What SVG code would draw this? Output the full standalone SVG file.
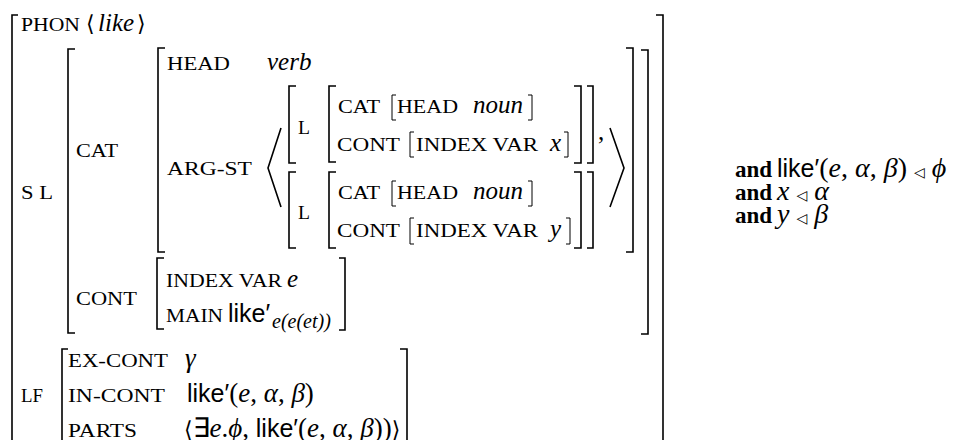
<svg xmlns="http://www.w3.org/2000/svg" width="963" height="440" viewBox="0 0 963 440">
<style>
.br{fill:none;stroke:#000;stroke-width:1.6}
.sb{fill:none;stroke:#000;stroke-width:1}
.sc{font-family:"Liberation Serif",serif;font-size:19px;fill:#000}
.it{font-family:"Liberation Serif",serif;font-style:italic;font-size:25px;fill:#000}
.rm{font-family:"Liberation Serif",serif;font-size:25px;fill:#000}
.mi{font-family:"Liberation Serif",serif;font-style:italic;font-size:27px;fill:#000}
.mr{font-family:"Liberation Serif",serif;font-size:27px;fill:#000}
.sf{font-family:"Liberation Sans",sans-serif;font-size:25px;fill:#000}
.ab{font-family:"DejaVu Serif",serif;font-size:22px;fill:#000}
.bd{font-family:"Liberation Serif",serif;font-weight:bold;font-size:23px;fill:#000}
.tri{font-family:"DejaVu Sans",sans-serif;font-size:14px;fill:#000}
.cm{font-size:28px}
</style>
<rect width="963" height="440" fill="#fff"/>
<g id="outer">
<path class="br" d="M18,15 H12 V440"/>
<path class="br" d="M656,15 H663 V440"/>
<text class="sc" x="21" y="31" textLength="59" lengthAdjust="spacingAndGlyphs">PHON</text>
<text class="ab" x="86" y="31">⟨</text>
<text class="it" x="98" y="31">like</text>
<text class="ab" x="137" y="31">⟩</text>
<text class="sc" x="21" y="199" textLength="32" lengthAdjust="spacingAndGlyphs">S L</text>
<text class="sc" x="21" y="402" textLength="22" lengthAdjust="spacingAndGlyphs">LF</text>
</g>
<g id="sl">
<path class="br" d="M75,49 H68 V333 H75"/>
<path class="br" d="M641,50 H648 V334 H641"/>
<text class="sc" x="76" y="157" textLength="42" lengthAdjust="spacingAndGlyphs">CAT</text>
<text class="sc" x="76" y="305" textLength="61" lengthAdjust="spacingAndGlyphs">CONT</text>
</g>
<g id="cat">
<path class="br" d="M165,48 H158 V252 H165"/>
<path class="br" d="M626,48 H633 V252 H626"/>
<text class="sc" x="167" y="70" textLength="63" lengthAdjust="spacingAndGlyphs">HEAD</text>
<text class="it" x="267" y="70">verb</text>
<text class="sc" x="167" y="175" textLength="85" lengthAdjust="spacingAndGlyphs">ARG-ST</text>
<path class="br" d="M281,128 L268,168 L281,207"/>
<path class="br" d="M610,128 L624,168 L610,207"/>
</g>
<g id="arg1">
<path class="br" d="M296,86 H289 V163 H296"/>
<path class="br" d="M336,86 H329 V162 H336"/>
<path class="br" d="M574,86 H581 V163 H574"/>
<path class="br" d="M587,86 H593 V163 H587"/>
<text class="sc" x="298" y="134" textLength="12" lengthAdjust="spacingAndGlyphs">L</text>
<text class="sc" x="338" y="113" textLength="42" lengthAdjust="spacingAndGlyphs">CAT</text>
<path class="sb" d="M396,95 H392 V120 H396"/>
<text class="sc" x="397" y="113" textLength="61" lengthAdjust="spacingAndGlyphs">HEAD</text>
<text class="it" x="473" y="113">noun</text>
<path class="sb" d="M528,95 H532 V120 H528"/>
<text class="sc" x="337" y="151" textLength="63" lengthAdjust="spacingAndGlyphs">CONT</text>
<path class="sb" d="M414,132 H410 V157 H414"/>
<text class="sc" x="416" y="151" textLength="122" lengthAdjust="spacingAndGlyphs">INDEX VAR</text>
<text class="it" x="550" y="151">x</text>
<path class="sb" d="M564,132 H568 V157 H564"/>
<text class="rm" x="598" y="140">,</text>
</g>
<g id="arg2">
<path class="br" d="M296,172 H289 V248 H296"/>
<path class="br" d="M336,172 H329 V248 H336"/>
<path class="br" d="M574,172 H581 V248 H574"/>
<path class="br" d="M587,172 H593 V248 H587"/>
<text class="sc" x="298" y="219" textLength="12" lengthAdjust="spacingAndGlyphs">L</text>
<text class="sc" x="338" y="199" textLength="42" lengthAdjust="spacingAndGlyphs">CAT</text>
<path class="sb" d="M396,181 H392 V206 H396"/>
<text class="sc" x="397" y="199" textLength="61" lengthAdjust="spacingAndGlyphs">HEAD</text>
<text class="it" x="473" y="199">noun</text>
<path class="sb" d="M528,181 H532 V206 H528"/>
<text class="sc" x="337" y="237" textLength="63" lengthAdjust="spacingAndGlyphs">CONT</text>
<path class="sb" d="M414,218 H410 V244 H414"/>
<text class="sc" x="416" y="237" textLength="122" lengthAdjust="spacingAndGlyphs">INDEX VAR</text>
<text class="it" x="550" y="237">y</text>
<path class="sb" d="M566,218 H570 V244 H566"/>
</g>
<g id="cont">
<path class="br" d="M164,258 H157 V329 H164"/>
<path class="br" d="M339,258 H345 V330 H339"/>
<text class="sc" x="166" y="287" textLength="116" lengthAdjust="spacingAndGlyphs">INDEX VAR</text>
<text class="it" x="287" y="287">e</text>
<text class="sc" x="166" y="322" textLength="57" lengthAdjust="spacingAndGlyphs">MAIN</text>
<text class="sf" x="228" y="322">like′</text>
<text class="it" x="272" y="328" style="font-size:20px">e(e(et))</text>
</g>
<g id="lf">
<path class="br" d="M68,349 H62 V440"/>
<path class="br" d="M400,349 H407 V440"/>
<text class="sc" x="68" y="367" textLength="100" lengthAdjust="spacingAndGlyphs">EX-CONT</text>
<text class="mi" x="185" y="367">γ</text>
<text class="sc" x="68" y="402" textLength="97" lengthAdjust="spacingAndGlyphs">IN-CONT</text>
<text x="187" y="402"><tspan class="sf">like′</tspan><tspan class="mr">(</tspan><tspan class="mi">e</tspan><tspan class="mr">, </tspan><tspan class="mi">α</tspan><tspan class="mr">, </tspan><tspan class="mi">β</tspan><tspan class="mr">)</tspan></text>
<text class="sc" x="68" y="437" textLength="69" lengthAdjust="spacingAndGlyphs">PARTS</text>
<text x="184" y="437"><tspan class="ab">⟨</tspan><tspan class="mr">∃</tspan><tspan class="mi">e</tspan><tspan class="mr">.</tspan><tspan class="mi">ϕ</tspan><tspan class="mr">, </tspan><tspan class="sf">like′</tspan><tspan class="mr">(</tspan><tspan class="mi">e</tspan><tspan class="mr">, </tspan><tspan class="mi">α</tspan><tspan class="mr">, </tspan><tspan class="mi">β</tspan><tspan class="mr">))</tspan><tspan class="ab">⟩</tspan></text>
</g>
<g id="constraints">
<text x="735" y="177"><tspan class="bd">and</tspan><tspan class="sf" x="777">like′</tspan><tspan class="mr cm">(</tspan><tspan class="mi cm">e</tspan><tspan class="mr cm">, </tspan><tspan class="mi cm">α</tspan><tspan class="mr cm">, </tspan><tspan class="mi cm">β</tspan><tspan class="mr cm">) </tspan><tspan class="tri">◁</tspan><tspan class="mi cm"> ϕ</tspan></text>
<text x="735" y="200"><tspan class="bd">and</tspan><tspan class="mi cm" x="777">x </tspan><tspan class="tri">◁</tspan><tspan class="mi cm"> α</tspan></text>
<text x="735" y="223"><tspan class="bd">and</tspan><tspan class="mi cm" x="777">y </tspan><tspan class="tri">◁</tspan><tspan class="mi cm"> β</tspan></text>
</g>
</svg>
